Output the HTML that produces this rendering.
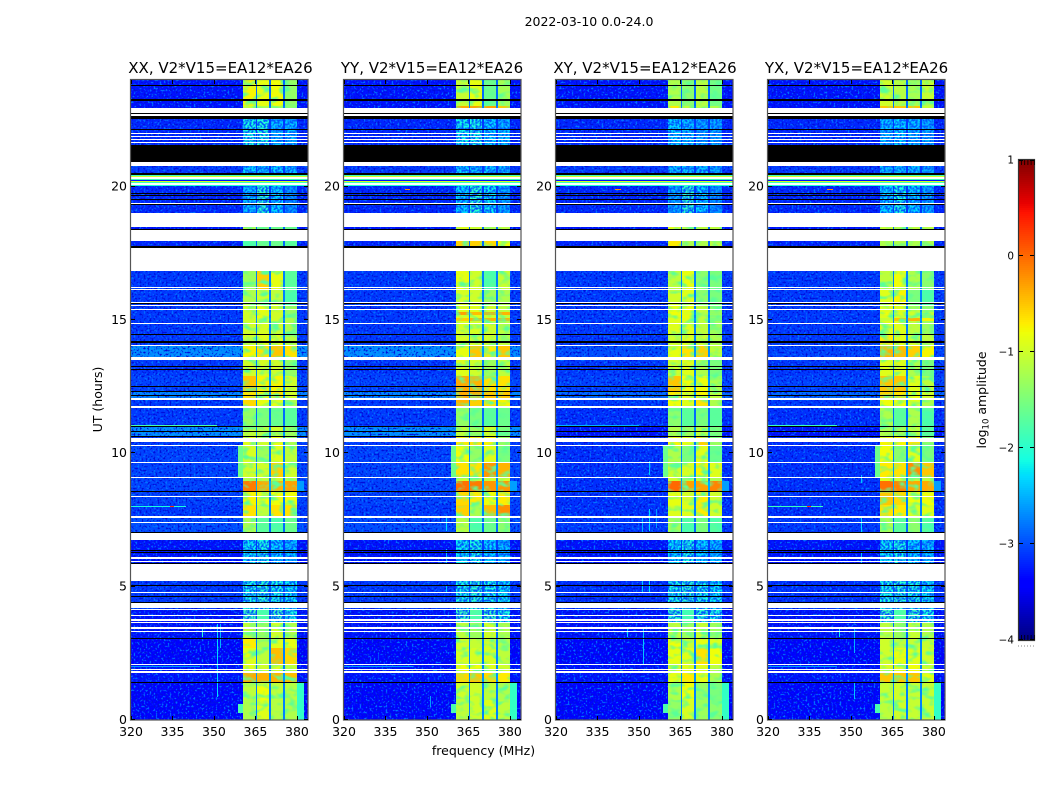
<!DOCTYPE html>
<html lang="en">
<head>
<meta charset="utf-8">
<title>2022-03-10 0.0-24.0</title>
<style>
html,body{margin:0;padding:0;background:#fff;}
svg{display:block;}
text{font-family:"DejaVu Sans","Liberation Sans",sans-serif;fill:#000;}
</style>
</head>
<body>
<svg id="chart" xmlns="http://www.w3.org/2000/svg" width="1050" height="800" viewBox="0 0 1050 800">
  <defs>
    <filter id="speckle" x="0" y="0" width="100%" height="100%" color-interpolation-filters="sRGB">
      <feTurbulence type="fractalNoise" baseFrequency="0.5" numOctaves="1" seed="4"/>
      <feColorMatrix values="0 0 0 0 0  0 0 0 0 0.45  0 0 0 0 1  5 0 0 0 -2.6"/>
    </filter>
    <filter id="speckle-deep" x="0" y="0" width="100%" height="100%" color-interpolation-filters="sRGB">
      <feTurbulence type="fractalNoise" baseFrequency="0.5" numOctaves="1" seed="11"/>
      <feColorMatrix values="0 0 0 0 0  0 0 0 0 0.05  0 0 0 0 0.85  5 0 0 0 -2.6"/>
    </filter>
    <filter id="speckle-dark" x="0" y="0" width="100%" height="100%" color-interpolation-filters="sRGB">
      <feTurbulence type="fractalNoise" baseFrequency="0.5" numOctaves="1" seed="9"/>
      <feColorMatrix values="0 0 0 0 0  0 0 0 0 0.35  0 0 0 0 1  5 0 0 0 -2"/>
    </filter>
    <filter id="band-mottle" x="0" y="0" width="100%" height="100%" color-interpolation-filters="sRGB">
      <feTurbulence type="fractalNoise" baseFrequency="0.1 0.16" numOctaves="2" seed="6"/>
      <feColorMatrix values="0 0 0 0 0.35  0 0 0 0 1  0 0 0 0 0.6  3.4 0 0 0 -1.6"/>
    </filter>
  </defs>
  <rect x="0" y="0" width="1050" height="800" fill="#fff"/>
  <text x="589" y="26" font-size="12.5" text-anchor="middle">2022-03-10 0.0-24.0</text>
  <text x="483.5" y="755" font-size="12.5" text-anchor="middle">frequency (MHz)</text>
  <text font-size="12.5" text-anchor="middle" transform="translate(102,399.5) rotate(-90)">UT (hours)</text>
  <text font-size="12.5" text-anchor="middle" transform="translate(986,400) rotate(-90)">log<tspan font-size="8.5" dy="2.5">10</tspan><tspan dy="-2.5"> amplitude</tspan></text>
  <g id="panels"></g>
  <g id="colorbar"></g>
</svg>
<script>
// ---- categories and tick labels ----
const polarizations = ['XX', 'YY', 'XY', 'YX'];
const baselineLabel = 'V2*V15=EA12*EA26';
const xTickLabels = [320, 335, 350, 365, 380];
const yTickLabels = [0, 5, 10, 15, 20];
const colorbarTickLabels = [1, 0, -1, -2, -3, -4];

// ---- spectral windows (MHz) ----
const bandLowMHz = [360.5, 365.7, 370.6, 375.7];
const bandHighMHz = [365.1, 370.0, 375.1, 380.0];

// ---- time segments (UT hours, descending) ----
const segmentEdgeHours = [24,23.04,22.95,21.56,20.78,20.03,18.49,17.96,16.84,16.13,15.53,15.3,15.19,15.08,14.96,14.44,14.03,13.5,12.9,12.34,12.08,11.7,10.99,10.61,10.31,9.64,9.08,8.96,8.59,8.06,7.58,6.75,5.21,4.13,3.64,3.04,2.7,2.06,1.76,1.39,0.75,0];

// ---- log10 amplitude off-band background per segment ----
const backgroundXX = [-3.3,-3.3,-3.2,-3.2,-3.1,-3.2,-3.3,-3.2,-3.1,-3.1,-3.1,-3.1,-3.1,-3.1,-3.1,-3.1,-2.65,-3.1,-3.05,-2.7,-3.1,-3.1,-2.65,-3.1,-3.05,-3.05,-3.05,-3.05,-3.05,-3.1,-3,-3.3,-3.1,-3.3,-3.3,-3.4,-3.4,-3.3,-3.3,-3.4,-3.4];
const backgroundYY = [-3.3,-3.3,-3.2,-3.2,-3.1,-3.2,-3.3,-3.2,-3.1,-3.1,-3.1,-3.1,-3.1,-3.1,-3.1,-3.1,-2.65,-3.1,-3.05,-2.7,-3.1,-3.1,-2.65,-3.1,-3.05,-3.05,-3.05,-3.05,-3.05,-3.1,-3,-3.3,-3.1,-3.3,-3.3,-3.4,-3.4,-3.3,-3.3,-3.4,-3.4];
const backgroundXY = [-3.3,-3.3,-3.2,-3.2,-3.1,-3.2,-3.3,-3.2,-3.1,-3.1,-3.1,-3.1,-3.1,-3.1,-3.1,-3.1,-3,-3.1,-3.05,-2.85,-3.1,-3.15,-3.3,-3.15,-3.15,-3.15,-3.15,-3.15,-3.15,-3.15,-3.1,-3.3,-3.15,-3.3,-3.3,-3.4,-3.4,-3.3,-3.3,-3.4,-3.4];
const backgroundYX = [-3.3,-3.3,-3.2,-3.2,-3.1,-3.2,-3.3,-3.2,-3.1,-3.1,-3.1,-3.1,-3.1,-3.1,-3.1,-3.1,-3.05,-3.1,-3.05,-2.85,-3.1,-3.15,-3.3,-3.15,-3.15,-3.15,-3.15,-3.15,-3.15,-3.15,-3.1,-3.3,-3.15,-3.3,-3.3,-3.4,-3.4,-3.3,-3.3,-3.4,-3.4];

// ---- level in the narrow gaps between spectral windows ----
const gapLevels = [-2.85,-2.75,-3.1,-3.1,-3.1,-3.1,-2.85,-2.85,-2.75,-2.75,-2.75,-2.65,-2.75,-2.65,-2.75,-2.75,-2.65,-2.75,-2.65,-2.65,-2.75,-2.85,-2.65,-2.75,-2.75,-2.65,-2.75,-2.55,-2.75,-2.75,-2.85,-3.1,-3,-3,-2.85,-2.75,-2.75,-2.75,-2.65,-2.75,-2.75];

// ---- log10 amplitude of each spectral window per segment ----
const bandsXX = [[-.75,-.85,-.8,-1.35],[-1.1,-1.2,-1.1,-1.4],[-2.1,-2.05,-2.4,-2.4],[-2.1,-2.05,-2.4,-2.4],[-2.3,-2.4,-2.3,-2.4],[-2.4,-2,-2.3,-2.6],[-1.05,-1.5,-1.6,-1.6],[-1.8,-1.6,-1.6,-1.7],[-1.3,-.55,-.85,-1.7],[-1.2,-1,-1.1,-1.8],[-1,-.85,-1,-1.3],[-1,-.9,-1,-1.3],[-1,-.85,-1,-1.3],[-1,-.9,-1,-1.2],[-1,-.95,-1,-1.2],[-1,-.9,-.9,-1.15],[-.75,-.65,-.5,-.65],[-1,-.95,-1,-1.35],[-.5,-.75,-.75,-1],[-.65,-.75,-.65,-1],[-.6,-.85,-.9,-1.2],[-1.35,-1.5,-1.6,-1.7],[-1.1,-1.15,-1,-1.3],[-.9,-1,-.8,-1.2],[-.95,-1.3,-.9,-1.1],[-1,-1,-.55,-1],[-1.2,-1.1,-1,-1.2],[-.1,-.35,-.4,-.3],[-.75,-.8,-.8,-.8],[-.65,-1.1,-.65,-.65],[-1.2,-1.7,-1.8,-1.6],[-2.2,-2.1,-2.3,-2.4],[-2.1,-2,-2.1,-2.2],[-1.9,-1.8,-1.9,-2.1],[-1.1,-1.3,-1,-1.2],[-.7,-1.2,-.9,-.85],[-.9,-1.1,-.45,-.6],[-.9,-1,-.9,-1.1],[-.35,-.4,-.4,-.45],[-1.1,-.8,-1.1,-1.15],[-1.2,-.9,-1.15,-1.2]];
const bandsYY = [[-1.05,-.85,-1.6,-1.25],[-.35,-.3,-.3,-.5],[-2.15,-2.1,-2.3,-2.4],[-2.15,-2.1,-2.3,-2.4],[-2.3,-2.4,-2.3,-2.4],[-2.3,-2,-2.2,-2.5],[-.9,-1,-1.1,-1.1],[-.55,-.55,-.6,-.8],[-.85,-1,-1.8,-1.05],[-.95,-1,-1.3,-1.2],[-.9,-.9,-1,-1.1],[-.3,-.45,-.35,-.4],[-.9,-.9,-1,-1.1],[-.55,-.4,-.4,-.4],[-.95,-.95,-1,-1.1],[-.95,-1,-1,-1.1],[-.85,-.5,-.7,-.5],[-.9,-1,-1.3,-1.1],[-.35,-.4,-.65,-.65],[-.35,-.35,-.5,-.5],[-.4,-.55,-.65,-.75],[-1.35,-1.5,-1.7,-1.6],[-1.1,-1.3,-1,-1.5],[-.7,-.65,-.75,-1.3],[-.8,-1.35,-.9,-1.5],[-.65,-.65,-.25,-.4],[-1,-1,-1,-1],[-.05,-.1,-.25,-.25],[-.6,-.7,-.8,-.7],[-.55,-1.2,-.45,-.2],[-1.15,-1.8,-1.6,-1.4],[-2.2,-2.1,-2.3,-2.4],[-2.1,-2,-2.1,-2.2],[-1.9,-1.8,-1.9,-2.1],[-1.1,-1.3,-1,-1.2],[-1,-1.05,-1,-1.15],[-.95,-.95,-.95,-1.1],[-.8,-.8,-.9,-1],[-.6,-.5,-.6,-.7],[-1,-1,-1.1,-1.2],[-1.1,-1,-.9,-1.1]];
const bandsXY = [[-1.2,-1.4,-1.15,-1.55],[-.7,-1.1,-1,-1.2],[-2.3,-2.4,-2.5,-2.5],[-2.3,-2.4,-2.5,-2.5],[-2.4,-2.4,-2.4,-2.5],[-2.5,-2,-2.3,-2.6],[-.9,-1.1,-1.1,-1.1],[-.7,-1.2,-1.2,-1.1],[-1.1,-.85,-1.4,-1.5],[-1,-.9,-1.4,-1.5],[-.85,-.85,-1.1,-1.4],[-.8,-.9,-1.1,-1.3],[-.85,-.85,-1.1,-1.4],[-.9,-.9,-1.1,-1.5],[-.9,-.9,-1.1,-1.3],[-1,-.9,-1,-1.2],[-.85,-.65,-.55,-1.1],[-1,-.9,-1.2,-1.5],[-.5,-.8,-.8,-1.2],[-.7,-.9,-.75,-1.1],[-.8,-.9,-.65,-1.2],[-1.4,-1.7,-1.5,-1.7],[-1.2,-1.3,-1.1,-1.5],[-.75,-.85,-.55,-1.3],[-1.2,-1.5,-.9,-1.6],[-1,-.95,-.75,-.9],[-1,-1.1,-1.1,-1.2],[0,-.3,-.3,-.15],[-.85,-.95,-.7,-1],[-.9,-.9,-.7,-1],[-1.25,-1.8,-1.5,-1.8],[-2.25,-2.1,-2.3,-2.4],[-2.1,-2,-2.1,-2.2],[-1.95,-1.85,-2,-2.1],[-1.1,-1.3,-1.05,-1.3],[-.8,-1.05,-.85,-.9],[-.85,-.9,-.65,-.8],[-.9,-.9,-.9,-1.1],[-.85,-.7,-.85,-1.2],[-1.2,-.8,-1.35,-1.5],[-1.35,-.95,-1.3,-1.4]];
const bandsYX = [[-1,-1.15,-1.25,-1.05],[-.5,-.5,-.5,-1],[-2.4,-2.3,-2.4,-2.5],[-2.4,-2.3,-2.4,-2.5],[-2.4,-2.4,-2.4,-2.5],[-2.3,-2.1,-2.3,-2.5],[-1.05,-1.1,-1.1,-1.1],[-1.2,-1.2,-1.2,-1.2],[-1.1,-.8,-1.2,-1.4],[-.9,-.75,-1.5,-1.8],[-.9,-.9,-1.1,-1.4],[-.8,-.9,-1,-1.1],[-.9,-.9,-1.1,-1.4],[-1.05,-.5,-.4,-.75],[-.9,-.9,-1.1,-1.3],[-.7,-.9,-1,-1.1],[-.4,-.45,-.55,-.75],[-.9,-.9,-1.2,-1.5],[-.5,-.5,-.9,-1.1],[-.55,-.65,-.8,-1],[-.8,-.8,-.9,-1.2],[-1.2,-1.7,-1.2,-1.8],[-1.2,-1.2,-1.1,-1.7],[-.75,-.75,-.65,-1.4],[-.8,-1.4,-.9,-1.5],[-.7,-.65,-.2,-.5],[-.9,-1,-1.1,-1.1],[-.05,-.15,-.35,-.35],[-.5,-.6,-.8,-.8],[-.65,-.7,-.95,-.9],[-1.2,-1.7,-1.4,-1.8],[-2.2,-2.1,-2.3,-2.4],[-2.1,-2,-2.1,-2.2],[-1.9,-1.8,-1.95,-2.1],[-1.1,-1.3,-1.05,-1.2],[-1,-1.1,-1.05,-1.05],[-1,-.85,-.9,-1],[-.9,-.9,-.8,-1],[-.5,-.5,-.5,-.85],[-1.05,-1,-1.05,-1.05],[-1.1,-1,-1.05,-1.05]];

// ---- band-edge shoulders: [start hour, end hour, level] ----
const lowShoulderSpans = [[10.31,9.08,-1.6],[0.6,0.25,-1.8]];
const highShoulderSpans = [[8.96,8.59,-2.6],[1.39,0,-1.95]];

// ---- flagged time ranges [start hour, end hour] ----
const noDataSpans = [[22.95,22.75],[22.71,22.65],[22.01,21.98],[21.89,21.86],[21.79,21.75],[21.69,21.66],[20.94,20.78],[20.36,20.3],[20.13,20.08],[19.39,19.35],[19,18.49],[18.38,17.96],[17.7,16.84],[16.24,16.2],[16.16,16.13],[15.69,15.66],[15.58,15.53],[15.41,15.38],[14.89,14.85],[14.07,14.03],[13.61,13.5],[12.08,12],[11.78,11.7],[10.59,10.43],[10.32,10.29],[9.68,9.64],[9.1,9.06],[8.41,8.37],[7.65,7.58],[7.43,7.39],[7,6.75],[6.1,6.04],[5.95,5.91],[5.85,5.21],[4.8,4.76],[4.4,4.19],[4.16,4.12],[3.94,3.91],[3.78,3.71],[3.66,3.64],[3.48,3.42],[3.35,3.33],[2.09,2.05],[1.9,1.86],[1.82,1.76]];
const blackSpans = [[23.83,23.78],[23.27,23.22],[22.75,22.71],[22.65,22.54],[22.16,22.13],[21.56,20.94],[20.5,20.45],[19.76,19.73],[19.7,19.68],[19.54,19.51],[19.35,19.31],[18.43,18.38],[17.79,17.7],[15.64,15.6],[14.48,14.44],[14.23,14.14],[13.28,13.24],[13.18,13.15],[12.51,12.49],[12.32,12.3],[12.19,12.17],[11.03,11],[10.83,10.8],[10.66,10.63],[8.6,8.56],[7.05,7.01],[6.36,6.32],[6.3,6.26],[5.9,5.86],[5.05,5.01],[4.65,4.6],[4.43,4.4],[3.08,3.04],[1.43,1.39]];

// ---- full-width coloured rows: [start hour, end hour, level] ----
const stripeRows = [[20.44,20.4,-1.9],[20.4,20.36,-.95],[20.3,20.25,-1.9],[20.25,20.2,-3.3],[20.2,20.16,-.95],[20.16,20.13,-1.9],[20.08,20.04,-2.0]];

// ---- narrow interference: vertical [MHz, start hour, end hour, level] ----
const streaksXX = [[351,3.6,.85,-2.3],[345.6,3.45,3.1,-2],[352,3.6,2.7,-2.5]];
const streaksYY = [[356.8,7.6,7.1,-2.3],[356.8,6.4,5.9,-2.4],[356.8,5.05,4.8,-2.4],[351,0.9,0.5,-2.6]];
const streaksXY = [[353.6,9.7,9.2,-2.4],[353.6,7.9,7.1,-2.3],[356,7.9,7.2,-2.6],[351,7.6,7.05,-2.5],[353.6,5.4,4.8,-2.3],[351,5.2,4.8,-2.4],[345.7,3.45,3.1,-2.3],[351.3,3.5,2.1,-2.4]];
const streaksYX = [[353.5,9.2,8.9,-2.4],[353.5,7.6,7.05,-2.3],[353.5,6.3,5.9,-2.4],[345.6,3.45,3.1,-2.2],[351,3.5,2.5,-2.5],[351,1.4,0.8,-2.4]];

// ---- narrow interference: horizontal [hour, start MHz, end MHz, level] ----
const hotRowsXX = [[11.05,320,351,-1.8],[8.02,320,340,-2.1],[8.02,334,335.5,.3],[2.03,320,345,-2.6]];
const hotRowsYY = [[19.9,342,344,-.2],[2.03,320,345,-2.6]];
const hotRowsXY = [[19.9,341.5,343.5,-.2],[11.05,320,350,-2.5]];
const hotRowsYX = [[19.9,341.5,343.5,-.2],[11.05,320,345,-1.9],[8.02,320,340,-1.9],[8.02,334,335.5,.3],[2.03,320,345,-2.6]];

// ---- lookups by polarization ----
const backgroundByPol = [backgroundXX, backgroundYY, backgroundXY, backgroundYX];
const bandsByPol = [bandsXX, bandsYY, bandsXY, bandsYX];
const streaksByPol = [streaksXX, streaksYY, streaksXY, streaksYX];
const hotRowsByPol = [hotRowsXX, hotRowsYY, hotRowsXY, hotRowsYX];

// ---- layout ----
const SVG_NS = 'http://www.w3.org/2000/svg';
const panelLefts = [131, 344, 556, 768];
const panelWidth = 177;
const plotTop = 80;
const plotBottom = 720;
const freqMin = 320, freqMax = 384, hourMax = 24;
const cbLeft = 1019, cbRight = 1034, cbTop = 160, cbBottom = 640, cbMin = -4, cbMax = 1;
const dimBandThreshold = -1.85;

function xScale(left, mhz) { return left + (mhz - freqMin) / (freqMax - freqMin) * panelWidth; }
function yScale(hour) { return plotBottom - hour / hourMax * (plotBottom - plotTop); }
function cbScale(v) { return cbBottom - (v - cbMin) / (cbMax - cbMin) * (cbBottom - cbTop); }

function ramp(points, f) {
  for (let i = 1; i < points.length; i++) {
    if (f <= points[i][0]) {
      const a = points[i - 1], b = points[i];
      return a[1] + (b[1] - a[1]) * (f - a[0]) / (b[0] - a[0]);
    }
  }
  return points[points.length - 1][1];
}
function jetColor(v) {
  const f = Math.max(0, Math.min(1, (v - cbMin) / (cbMax - cbMin)));
  const r = ramp([[0,0],[.35,0],[.66,1],[.89,1],[1,.5]], f);
  const g = ramp([[0,0],[.125,0],[.375,1],[.64,1],[.91,0],[1,0]], f);
  const b = ramp([[0,.5],[.11,1],[.34,1],[.65,0],[1,0]], f);
  return 'rgb(' + Math.round(r * 255) + ',' + Math.round(g * 255) + ',' + Math.round(b * 255) + ')';
}

function addCell(parent, name, x0, x1, y0, y1, fill) {
  const el = document.createElementNS(SVG_NS, 'rect');
  const ya = Math.round(y0), yb = Math.max(ya + 1, Math.round(y1));
  const xa = Math.round(x0), xb = Math.max(xa + 1, Math.round(x1));
  el.setAttribute('x', xa);
  el.setAttribute('y', ya);
  el.setAttribute('width', xb - xa);
  el.setAttribute('height', yb - ya);
  el.setAttribute('fill', fill);
  el.setAttribute('shape-rendering', 'crispEdges');
  
  
  parent.appendChild(el);
  return el;
}
function addLine(parent, name, x1, y1, x2, y2, color, width) {
  const el = document.createElementNS(SVG_NS, 'line');
  el.setAttribute('x1', x1);
  el.setAttribute('y1', y1);
  el.setAttribute('x2', x2);
  el.setAttribute('y2', y2);
  el.setAttribute('stroke', color);
  el.setAttribute('stroke-width', width);
  
  
  parent.appendChild(el);
  return el;
}
function addText(parent, name, x, y, size, anchor, content) {
  const el = document.createElementNS(SVG_NS, 'text');
  el.setAttribute('x', x);
  el.setAttribute('y', y);
  el.setAttribute('font-size', size);
  el.setAttribute('text-anchor', anchor);
  el.textContent = content;
  
  
  parent.appendChild(el);
  return el;
}

function drawPanel(root, p) {
  const left = panelLefts[p];
  const right = left + panelWidth;
  const pol = polarizations[p];
  const g = document.createElementNS(SVG_NS, 'g');
  
  
  root.appendChild(g);

  const nSeg = segmentEdgeHours.length - 1;
  for (let i = 0; i < nSeg; i++) {
    addCell(g, 'background-cell', left, right, yScale(segmentEdgeHours[i]), yScale(segmentEdgeHours[i + 1]), jetColor(backgroundByPol[p][i]));
  }
  const noise = addCell(g, 'background-speckle-light', left, right, plotTop, plotBottom, '#fff');
  noise.setAttribute('filter', 'url(#speckle)');
  const deep = addCell(g, 'background-speckle-deep', left, right, plotTop, plotBottom, '#fff');
  deep.setAttribute('filter', 'url(#speckle-deep)');

  lowShoulderSpans.forEach(function (s) {
    addCell(g, 'low-shoulder-cell', xScale(left, 358.6), xScale(left, 360.5), yScale(s[0]), yScale(s[1]), jetColor(s[2]));
  });
  highShoulderSpans.forEach(function (s) {
    addCell(g, 'high-shoulder-cell', xScale(left, 380), xScale(left, 382.5), yScale(s[0]), yScale(s[1]), jetColor(s[2]));
  });

  for (let i = 0; i < nSeg; i++) {
    const y0 = yScale(segmentEdgeHours[i]), y1 = yScale(segmentEdgeHours[i + 1]);
    for (let k = 0; k < bandLowMHz.length; k++) {
      addCell(g, 'band-cell', xScale(left, bandLowMHz[k]), xScale(left, bandHighMHz[k]), y0, y1, jetColor(bandsByPol[p][i][k]));
    }
  }
  const mottle = addCell(g, 'band-mottle', xScale(left, bandLowMHz[0]), xScale(left, bandHighMHz[3]), plotTop, plotBottom, '#fff');
  mottle.setAttribute('filter', 'url(#band-mottle)');
  for (let i = 0; i < nSeg; i++) {
    const y0 = yScale(segmentEdgeHours[i]), y1 = yScale(segmentEdgeHours[i + 1]);
    for (let k = 0; k < bandLowMHz.length; k++) {
      const level = bandsByPol[p][i][k];
      if (k < bandLowMHz.length - 1) {
        addCell(g, 'band-gap-cell', xScale(left, bandHighMHz[k]), xScale(left, bandLowMHz[k + 1]), y0, y1, jetColor(gapLevels[i]));
      }
      if (level < dimBandThreshold) {
        addCell(g, 'dim-band-cell', xScale(left, bandLowMHz[k]), xScale(left, bandHighMHz[k]), y0, y1, jetColor(level));
        const dim = addCell(g, 'dim-band-speckle', xScale(left, bandLowMHz[k]), xScale(left, bandHighMHz[k]), y0, y1, '#fff');
        dim.setAttribute('filter', 'url(#speckle-dark)');
      }
    }
  }

  streaksByPol[p].forEach(function (s) {
    addCell(g, 'rfi-streak', xScale(left, s[0]), xScale(left, s[0]) + 1, yScale(s[1]), yScale(s[2]), jetColor(s[3]));
  });
  hotRowsByPol[p].forEach(function (s) {
    addCell(g, 'rfi-row', xScale(left, s[1]), xScale(left, s[2]), yScale(s[0]), yScale(s[0]) + 1, jetColor(s[3]));
  });
  stripeRows.forEach(function (s) {
    addCell(g, 'stripe-row', left, right, yScale(s[0]), yScale(s[1]), jetColor(s[2]));
  });
  noDataSpans.forEach(function (s) {
    addCell(g, 'no-data-row', left, right, yScale(s[0]), yScale(s[1]), '#fff');
  });
  blackSpans.forEach(function (s) {
    addCell(g, 'flagged-row', left, right, yScale(s[0]), yScale(s[1]), '#000');
  });

  const frame = document.createElementNS(SVG_NS, 'rect');
  frame.setAttribute('x', left - 0.5);
  frame.setAttribute('y', plotTop - 0.5);
  frame.setAttribute('width', panelWidth + 0.5);
  frame.setAttribute('height', plotBottom - plotTop + 0.5);
  frame.setAttribute('fill', 'none');
  frame.setAttribute('stroke', '#555');
  frame.setAttribute('stroke-width', '1.2');
  
  
  g.appendChild(frame);

  xTickLabels.forEach(function (t) {
    const x = Math.round(xScale(left, t)) + 0.5;
    addLine(g, 'x-tick', x, plotBottom, x, plotBottom - 4, '#000', 1);
    addLine(g, 'x-tick-top', x, plotTop, x, plotTop + 4, '#000', 1);
    addText(g, 'x-tick-label', xScale(left, t), 736, 12.5, 'middle', String(t));
  });
  yTickLabels.forEach(function (t) {
    const y = Math.round(yScale(t)) - 0.5;
    addLine(g, 'y-tick', left, y, left + 4, y, '#000', 1);
    addLine(g, 'y-tick-right', right, y, right - 4, y, '#000', 1);
    addText(g, 'y-tick-label', left - 4, yScale(t) + 3.8, 12.5, 'end', String(t));
  });

  addText(g, 'panel-title', left + panelWidth / 2 + (p === 0 ? 1 : p === 1 ? -0.5 : p === 2 ? 0.5 : 0), 73, 15, 'middle', pol + ', ' + baselineLabel);
}

function drawColorbar(root) {
  const steps = 240;
  for (let i = 0; i < steps; i++) {
    const v = cbMin + (i + 0.5) / steps * (cbMax - cbMin);
    const vLow = cbMin + i / steps * (cbMax - cbMin);
    const vHigh = cbMin + (i + 1) / steps * (cbMax - cbMin);
    addCell(root, 'colorbar-swatch', cbLeft, cbRight, cbScale(vHigh), cbScale(vLow), jetColor(v));
  }
  const edge = document.createElementNS(SVG_NS, 'rect');
  edge.setAttribute('x', cbLeft - 0.5);
  edge.setAttribute('y', cbTop - 0.5);
  edge.setAttribute('width', cbRight - cbLeft + 1);
  edge.setAttribute('height', cbBottom - cbTop + 1);
  edge.setAttribute('fill', 'none');
  edge.setAttribute('stroke', '#333');
  edge.setAttribute('stroke-width', '1.2');
  
  
  root.appendChild(edge);

  colorbarTickLabels.forEach(function (t) {
    const y = Math.round(cbScale(t)) + (t === cbMax ? 0.5 : -0.5);
    addLine(root, 'colorbar-tick', cbLeft, y, cbLeft + 4, y, '#000', 1);
    addLine(root, 'colorbar-tick', cbRight - 4, y, cbRight, y, '#000', 1);
    const label = t < 0 ? '\u2212' + Math.abs(t) : String(t);
    addText(root, 'colorbar-tick-label', 1014, cbScale(t) + 3.5, 10.4, 'end', label);
  });
  [0, 1, 2, 3, 4].forEach(function (i) {
    const x = cbLeft + 2.5 + i * 3.2;
    addLine(root, 'colorbar-minor-tick', x, cbTop, x, cbTop + 5, '#000', 0.8);
    addLine(root, 'colorbar-minor-tick', x, cbBottom, x, cbBottom - 5, '#000', 0.8);
  });
  const dots = addLine(root, 'colorbar-minor-labels', 1018, 646, 1035, 646, '#888', 1);
  dots.setAttribute('stroke-dasharray', '1 2');
}

const panelsRoot = document.getElementById('panels');
polarizations.forEach(function (_, p) { drawPanel(panelsRoot, p); });
drawColorbar(document.getElementById('colorbar'));
</script>
</body>
</html>
